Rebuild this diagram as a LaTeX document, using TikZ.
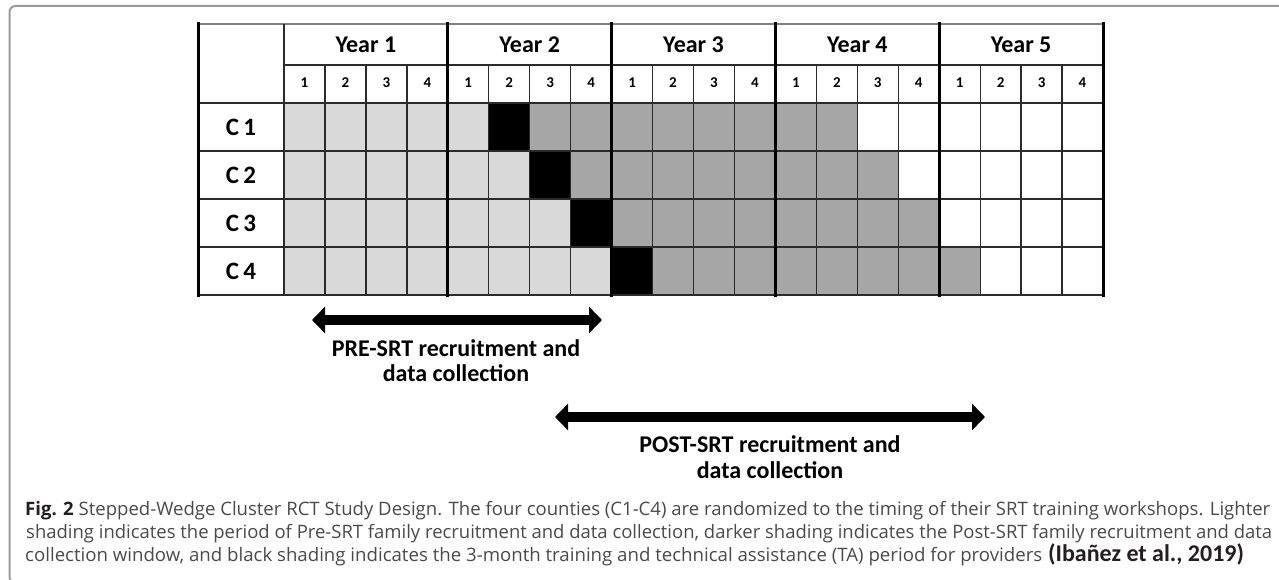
\documentclass[tikz,border=0pt]{standalone}
\usepackage{fontspec}
\usepackage{graphicx}
\setmainfont{Carlito}
\newfontfamily\capfont{Open Sans}
\usetikzlibrary{arrows.meta}
\definecolor{lightc}{HTML}{D9D9D9}
\definecolor{darkc}{HTML}{A6A6A6}
\definecolor{gridc}{HTML}{2B2B2B}
\definecolor{framec}{HTML}{9A9A9A}
\definecolor{captc}{HTML}{4A4A4A}
\definecolor{capbold}{HTML}{231F20}
\begin{document}
\begin{tikzpicture}[x=1pt,y=-1pt,
  thinline/.style={draw=gridc,line width=1.3pt},
  medline/.style={draw=gridc,line width=2pt},
  thickline/.style={draw=black,line width=3pt,line cap=rect},
  topline/.style={draw=gray,line width=1.5pt},
  yearlab/.style={font=\fontsize{24}{24}\selectfont\bfseries,inner sep=0pt},
  qlab/.style={font=\fontsize{15}{15}\selectfont\bfseries,inner sep=0pt},
  clab/.style={font=\fontsize{25}{25}\selectfont\bfseries,inner sep=0pt},
  arrlab/.style={font=\fontsize{24}{24}\selectfont\bfseries,inner sep=0pt,anchor=base},
  bigarrow/.style={line width=10pt,{Triangle[length=13pt,width=26pt]}-{Triangle[length=13pt,width=26pt]}},
  caption/.style={anchor=base west,inner sep=0pt,text=captc}]
\useasboundingbox (0,0) rectangle (1279,580);
\fill[white] (0,0) rectangle (1279,580);
% frame
\draw[framec,line width=2pt,rounded corners=6pt] (1290,6) -- (9.5,6) -- (9.5,583) -- (25,583);
% cells
\foreach \k in {1,...,4}{
  \pgfmathsetmacro\yt{103+48*(\k-1)}
  \pgfmathsetmacro\yb{\yt+48}
  \pgfmathsetmacro\xa{284+40.95*(4+\k)}
  \pgfmathsetmacro\xb{\xa+40.95}
  \pgfmathsetmacro\xc{\xb+8*40.95}
  \fill[lightc] (284,\yt) rectangle (\xa,\yb);
  \fill[black] (\xa,\yt) rectangle (\xb,\yb);
  \fill[darkc] (\xb,\yt) rectangle (\xc,\yb);
}
% grid lines
\foreach \i in {1,2,3,5,6,7,9,10,11,13,14,15,17,18,19}
  \draw[thinline] ({284+40.95*\i},65) -- ({284+40.95*\i},295);
\draw[thinline] (284,65) -- (1103,65);
\foreach \y in {103,151,199,247,295}
  \draw[thinline] (198,\y) -- (1103,\y);
\draw[topline] (198,24) -- (1103,24);
\draw[medline] (284,24) -- (284,295);
\draw[thickline] (198,24) -- (198,295);
\foreach \i in {4,8,12,16,20}
  \draw[thickline] ({284+40.95*\i},24) -- ({284+40.95*\i},295);
% year labels
\foreach \y in {1,...,5}
  \node[yearlab] (year\y) at ({284+163.8*(\y-0.5)},45) {Year \y};
% quarter labels
\foreach \y in {1,...,5}
  \foreach \q in {1,...,4}
    \node[qlab] (q\y-\q) at ({284+163.8*(\y-1)+40.95*(\q-0.5)},83) {\q};
% cluster labels
\foreach \k in {1,...,4}
  \node[clab] (c\k) at (241,{127+48*(\k-1)}) {C\,\k};
% arrows
\coordinate (preL) at (312,320);
\coordinate (preR) at (602,320);
\draw[bigarrow] (preL) -- (preR);
\node[arrlab] (pre1) at (456,356) {PRE-SRT recruitment and};
\node[arrlab] (pre2) at (456,381) {data collection};
\coordinate (postL) at (555,417);
\coordinate (postR) at (985,417);
\draw[bigarrow] (postL) -- (postR);
\node[arrlab] (post1) at (770,452) {POST-SRT recruitment and};
\node[arrlab] (post2) at (770,478) {data collection};
% caption
\node[caption] (cap1) at (25,515) {\resizebox{1245pt}{\height}{\capfont\fontsize{18.5}{18.5}\selectfont{\color{capbold}\bfseries Fig. 2} Stepped-Wedge Cluster RCT Study Design. The four counties (C1-C4) are randomized to the timing of their SRT training workshops. Lighter}};
\node[caption] (cap2) at (26,538) {\resizebox{1246pt}{\height}{\capfont\fontsize{18.5}{18.5}\selectfont shading indicates the period of Pre-SRT family recruitment and data collection, darker shading indicates the Post-SRT family recruitment and data}};
\node[caption] (cap3) at (25,561) {\resizebox{1017pt}{\height}{\capfont\fontsize{18.5}{18.5}\selectfont collection window, and black shading indicates the 3-month training and technical assistance (TA) period for providers}\hspace{6pt}{\bfseries\color{capbold}\fontsize{24}{24}\selectfont(Ibañez et al., 2019)}};
\end{tikzpicture}
\end{document}
